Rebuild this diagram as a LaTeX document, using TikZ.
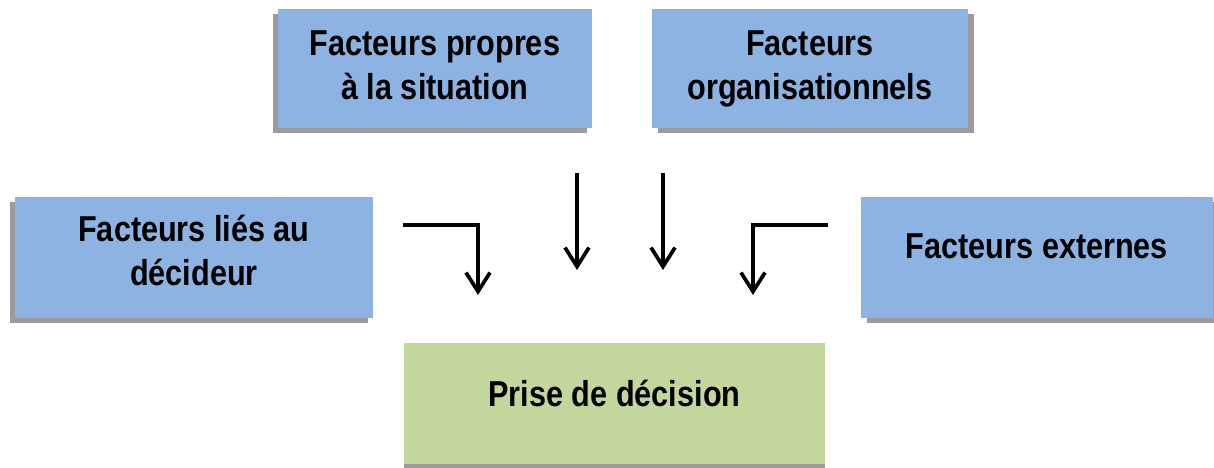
\documentclass[tikz,border=0pt]{standalone}
\usepackage{fontspec}
\setmainfont{Liberation Sans}[FakeStretch=0.85]
\usetikzlibrary{arrows.meta,shadows}

\definecolor{boxblue}{HTML}{8DB3E2}
\definecolor{boxgreen}{HTML}{C3D69B}
\definecolor{shadowgray}{HTML}{9C9C9C}

\begin{document}
\begin{tikzpicture}[
		factor/.style={fill=boxblue,minimum height=2.38cm,align=center,inner sep=0pt,
			font=\bfseries\fontsize{20.5}{25}\selectfont},
		shadowleft/.style={drop shadow={shadow xshift=-0.11cm,shadow yshift=-0.1cm,opacity=1,fill=shadowgray}},
		shadowright/.style={drop shadow={shadow xshift=0.11cm,shadow yshift=-0.1cm,opacity=1,fill=shadowgray}},
		flow/.style={line width=2.1pt,-{Straight Barb[length=3.8mm,width=4.8mm,line width=2.1pt]}}
	]
		\useasboundingbox (0,0) rectangle (24.28,9.36);

		% factor boxes
		\node[factor,shadowleft,minimum width=6.28cm,text depth=0.14cm] (situation) at (8.70,7.99) {Facteurs propres\\ à la situation};
		\node[factor,shadowright,minimum width=6.32cm] (organisation) at (16.20,7.99) {Facteurs\\ organisationnels};
		\node[factor,shadowleft,minimum width=7.16cm,minimum height=2.42cm,text depth=0.28cm] (decideur) at (3.88,4.21) {Facteurs liés au\\ décideur};
		\node[factor,shadowright,minimum width=7.04cm,minimum height=2.42cm,text depth=0.44cm] (externes) at (20.74,4.21) {Facteurs externes};

		% decision box
		\node[factor,fill=boxgreen,drop shadow={shadow xshift=0cm,shadow yshift=-0.1cm,opacity=1,fill=shadowgray},
			minimum width=8.42cm,minimum height=2.42cm,text depth=0.40cm] (decision) at (12.29,1.29) {Prise de décision};

		% arrows
		\coordinate (lstart) at (8.06,4.86);
		\coordinate (ltip) at (9.56,3.46);
		\coordinate (m1start) at (11.54,5.90);
		\coordinate (m1tip) at (11.54,3.96);
		\coordinate (m2start) at (13.26,5.90);
		\coordinate (m2tip) at (13.26,3.96);
		\coordinate (rstart) at (16.56,4.86);
		\coordinate (rtip) at (15.06,3.46);

		\draw[flow] (lstart) -| (ltip);
		\draw[flow] (m1start) -- (m1tip);
		\draw[flow] (m2start) -- (m2tip);
		\draw[flow] (rstart) -| (rtip);
	\end{tikzpicture}
\end{document}
